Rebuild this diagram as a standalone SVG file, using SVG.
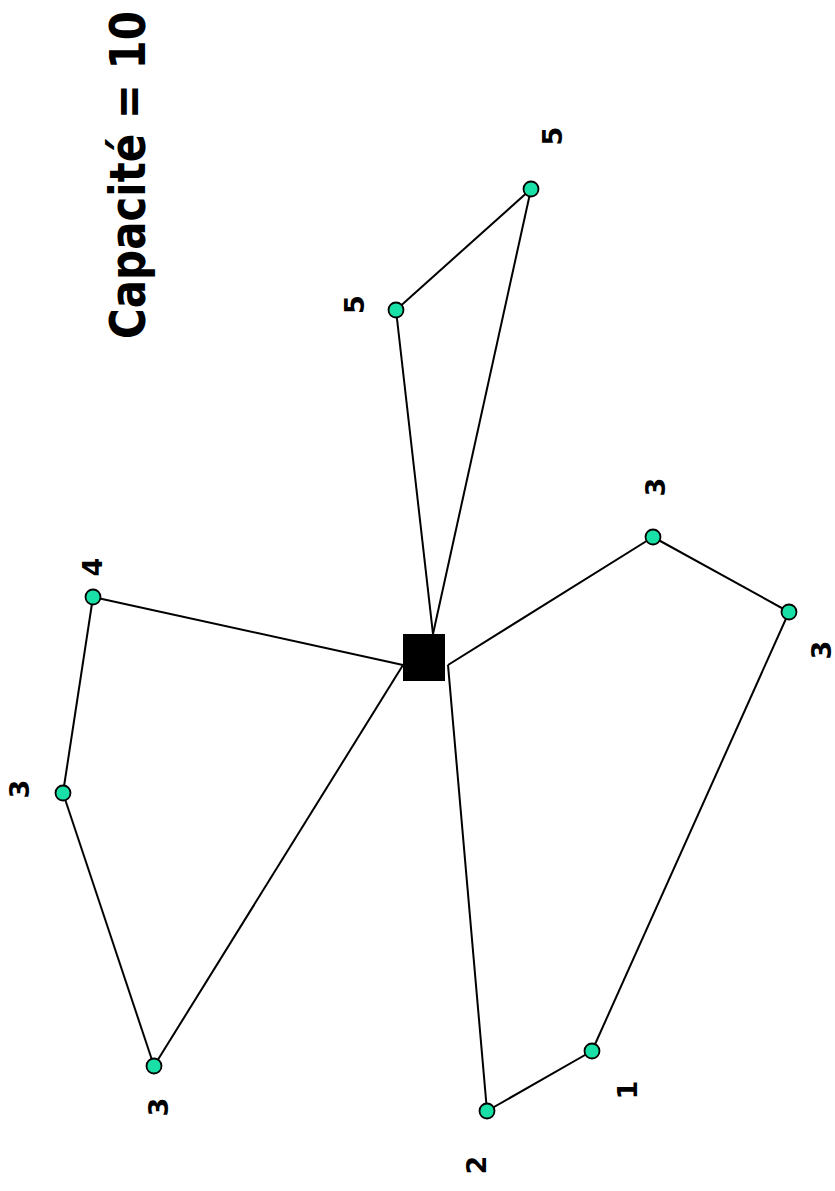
<svg xmlns="http://www.w3.org/2000/svg" width="835" height="1191" viewBox="0 0 835 1191">
<style>
.e{stroke:#000;stroke-width:2;fill:none}
.n{fill:#19E0A6;stroke:#000;stroke-width:1.8}
.l{font-family:"DejaVu Sans",Verdana,sans-serif;font-weight:bold;font-size:27px;fill:#000;text-anchor:middle}
.t{font-family:"DejaVu Sans",Verdana,sans-serif;font-weight:bold;font-size:50px;fill:#000;text-anchor:middle}
</style>
<rect width="835" height="1191" fill="#fff"/>
<text class="t" transform="translate(145,175) rotate(-90)" textLength="328" lengthAdjust="spacingAndGlyphs">Capacité = 10</text>
<g id="connectors">
<line class="e" x1="396" y1="310" x2="531" y2="189"/>
<line class="e" x1="396" y1="310" x2="433" y2="634"/>
<line class="e" x1="531" y1="189" x2="433" y2="634"/>
<line class="e" x1="93" y1="597" x2="403" y2="665"/>
<line class="e" x1="93" y1="597" x2="63" y2="793"/>
<line class="e" x1="63" y1="793" x2="154" y2="1066"/>
<line class="e" x1="154" y1="1066" x2="403" y2="665"/>
<line class="e" x1="448" y1="665" x2="653" y2="537"/>
<line class="e" x1="653" y1="537" x2="789" y2="612"/>
<line class="e" x1="789" y1="612" x2="592" y2="1051"/>
<line class="e" x1="592" y1="1051" x2="487" y2="1111"/>
<line class="e" x1="487" y1="1111" x2="448" y2="665"/>
</g>
<g id="depot"><rect x="403" y="634" width="42" height="47" fill="#000"/></g>
<g id="n5a"><circle class="n" cx="396" cy="310" r="7.5"/><text class="l" transform="translate(364,304.5) rotate(-90)">5</text></g>
<g id="n5b"><circle class="n" cx="531" cy="189" r="7.5"/><text class="l" transform="translate(562,136) rotate(-90)">5</text></g>
<g id="n3tr"><circle class="n" cx="653" cy="537" r="7.5"/><text class="l" transform="translate(665,487) rotate(-90)">3</text></g>
<g id="n3r"><circle class="n" cx="789" cy="612" r="7.5"/><text class="l" transform="translate(831,650) rotate(-90)">3</text></g>
<g id="n4"><circle class="n" cx="93" cy="597" r="7.5"/><text class="l" transform="translate(102,567) rotate(-90)">4</text></g>
<g id="n3l"><circle class="n" cx="63" cy="793" r="7.5"/><text class="l" transform="translate(29,789) rotate(-90)">3</text></g>
<g id="n3bl"><circle class="n" cx="154" cy="1066" r="7.5"/><text class="l" transform="translate(168,1107) rotate(-90)">3</text></g>
<g id="n1"><circle class="n" cx="592" cy="1051" r="7.5"/><text class="l" transform="translate(637,1090) rotate(-90)">1</text></g>
<g id="n2"><circle class="n" cx="487" cy="1111" r="7.5"/><text class="l" transform="translate(486,1165) rotate(-90)">2</text></g>
</svg>
